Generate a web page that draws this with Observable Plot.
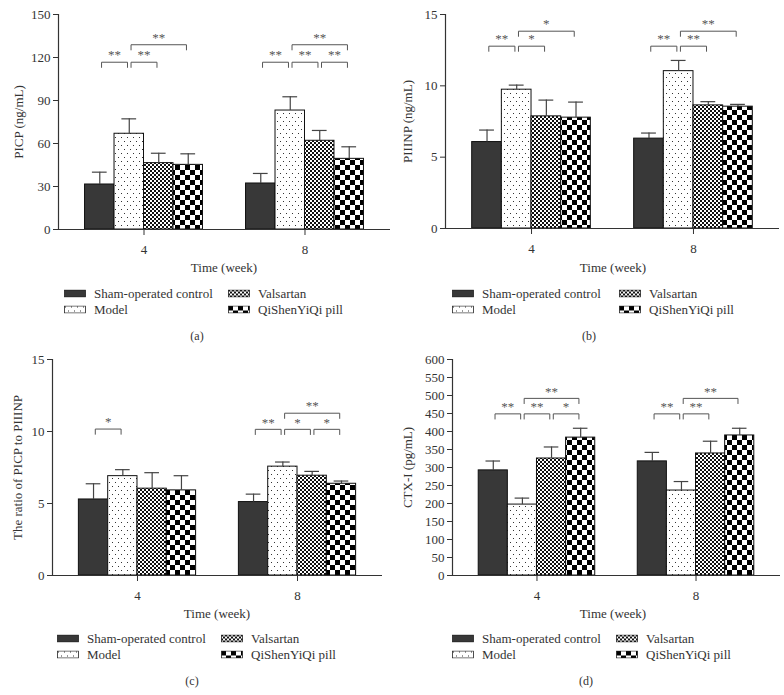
<!DOCTYPE html>
<html><head><meta charset="utf-8">
<script src="https://cdn.jsdelivr.net/npm/d3@7"></script>
<script src="https://cdn.jsdelivr.net/npm/@observablehq/plot@0.6"></script>
<style>
body{margin:0;background:#fff;}
#root{position:relative;width:784px;height:695px;font-family:"Liberation Serif","DejaVu Serif",serif;color:#333;overflow:hidden;}
.panel{position:absolute;}
.t{position:absolute;transform:translate(-50%,-50%);white-space:nowrap;line-height:1;}
.leg{position:absolute;display:flex;align-items:center;white-space:nowrap;font-size:13px;line-height:1;transform:translateY(-50%);}
.leg svg{margin-right:8px;}
</style></head>
<body><div id="root"></div>
<script>
// ---------- data ----------
const weeks = ["4", "8"];
const groups = ["Sham-operated control", "Model", "Valsartan", "QiShenYiQi pill"];

// values listed week 4 (4 groups) then week 8 (4 groups)
const picpMean = [31.4, 66.8, 46.3, 45.1, 32.1, 83.0, 61.9, 49.3];
const picpErr  = [8.6, 10.4, 6.9, 7.7, 7.0, 9.6, 7.2, 8.4];
const piiinpMean = [6.06, 9.73, 7.86, 7.77, 6.30, 11.03, 8.63, 8.54];
const piiinpErr  = [0.84, 0.32, 1.14, 1.09, 0.39, 0.75, 0.26, 0.16];
const ratioMean = [5.28, 6.90, 6.03, 5.91, 5.10, 7.56, 6.93, 6.37];
const ratioErr  = [1.09, 0.45, 1.11, 1.02, 0.55, 0.32, 0.30, 0.19];
const ctxMean = [292, 197, 325, 383, 317, 236, 339, 389];
const ctxErr  = [26, 18, 32, 26, 25, 25, 34, 20];

const picpTicks = [0, 30, 60, 90, 120, 150];
const piiinpTicks = [0, 5, 10, 15];
const ratioTicks = [0, 5, 10, 15];
const ctxTicks = [0, 50, 100, 150, 200, 250, 300, 350, 400, 450, 500, 550, 600];

// significance brackets: [week, from group index, to group index, height, label]
const picpSig = [["4",0,1,116.7,"**"],["4",1,2,116.7,"**"],["4",1,3,128.9,"**"],
                 ["8",0,1,116.7,"**"],["8",1,2,116.7,"**"],["8",2,3,116.7,"**"],["8",1,3,128.9,"**"]];
const piiinpSig = [["4",0,1,12.78,"**"],["4",1,2,12.78,"*"],["4",1,3,13.83,"*"],
                   ["8",0,1,12.78,"**"],["8",1,2,12.78,"**"],["8",1,3,13.83,"**"]];
const ratioSig = [["4",0,1,10.17,"*"],
                  ["8",0,1,10.15,"**"],["8",1,2,10.15,"*"],["8",2,3,10.15,"*"],["8",1,3,11.27,"**"]];
const ctxSig = [["4",0,1,449,"**"],["4",1,2,449,"**"],["4",2,3,449,"*"],["4",1,3,492,"**"],
                ["8",0,1,449,"**"],["8",1,2,449,"**"],["8",1,3,492,"**"]];

const yLabels = ["PICP (ng/mL)", "PIIINP (ng/mL)", "The ratio of PICP to PIIINP", "CTX-I (pg/mL)"];
const xLabel = "Time (week)";
const captions = ["(a)", "(b)", "(c)", "(d)"];

// ---------- layout of grouped bars (in bar-width units) ----------
const groupStep = 5.46;     // distance between week groups
const outerPad = 0.9;       // space between axis ends and outer bars
const barPos = (wi, gi) => wi * groupStep + gi;
const weekCenters = weeks.map((w, wi) => barPos(wi, 1.5));
const xDomain = [barPos(0, 0) - 0.5 - outerPad, barPos(weeks.length - 1, 3) + 0.5 + outerPad];

// ---------- patterns ----------
const root = d3.select("#root");
const defsSvg = root.append("svg").attr("width", 1).attr("height", 1)
  .style("position", "absolute").style("left", "0").style("top", "0");
const defs = defsSvg.append("defs");
{
  let p = defs.append("pattern").attr("id", "patModel").attr("patternUnits", "userSpaceOnUse").attr("width", 6).attr("height", 8);
  p.append("rect").attr("width", 6).attr("height", 8).attr("fill", "#fff");
  p.append("rect").attr("x", 1).attr("y", 1).attr("width", 1).attr("height", 1).attr("fill", "#333");
  p.append("rect").attr("x", 4).attr("y", 5).attr("width", 1).attr("height", 1).attr("fill", "#333");
  p = defs.append("pattern").attr("id", "patVals").attr("patternUnits", "userSpaceOnUse").attr("width", 4).attr("height", 4);
  p.append("rect").attr("width", 4).attr("height", 4).attr("fill", "#fff");
  p.append("rect").attr("width", 2).attr("height", 2).attr("fill", "#111");
  p.append("rect").attr("x", 2).attr("y", 2).attr("width", 2).attr("height", 2).attr("fill", "#111");
  p = defs.append("pattern").attr("id", "patQi").attr("patternUnits", "userSpaceOnUse").attr("width", 10).attr("height", 10);
  p.append("rect").attr("width", 10).attr("height", 10).attr("fill", "#fff");
  p.append("rect").attr("width", 5).attr("height", 5).attr("fill", "#000");
  p.append("rect").attr("x", 5).attr("y", 5).attr("width", 5).attr("height", 5).attr("fill", "#000");
}
const fills = ["#383838", "url(#patModel)", "url(#patVals)", "url(#patQi)"];

// ---------- panels ----------
const panels = [
  {mean: picpMean, err: picpErr, ticks: picpTicks, sig: picpSig, ylabel: yLabels[0], cap: captions[0],
   left: 0, top: 0, width: 392, height: 256, ml: 58, mr: 2, mt: 14, mb: 27, lo: 45,
   xl: [224, 267], capPos: [197, 336], leg: {c1: 64, c2: 228, r1: 293, r2: 309}},
  {mean: piiinpMean, err: piiinpErr, ticks: piiinpTicks, sig: piiinpSig, ylabel: yLabels[1], cap: captions[1],
   left: 392, top: 0, width: 392, height: 256, ml: 53, mr: 5, mt: 14, mb: 28, lo: 43,
   xl: [613, 267], capPos: [589, 336], leg: {c1: 452, c2: 619, r1: 293, r2: 309}},
  {mean: ratioMean, err: ratioErr, ticks: ratioTicks, sig: ratioSig, ylabel: yLabels[2], cap: captions[2],
   left: 0, top: 345, width: 392, height: 257, ml: 52, mr: 10, mt: 14, mb: 27, lo: 40,
   xl: [217, 613], capPos: [192, 681], leg: {c1: 57, c2: 221, r1: 638, r2: 654}},
  {mean: ctxMean, err: ctxErr, ticks: ctxTicks, sig: ctxSig, ylabel: yLabels[3], cap: captions[3],
   left: 392, top: 345, width: 392, height: 257, ml: 60, mr: 4, mt: 14, mb: 27, lo: 50,
   xl: [613, 613], capPos: [586, 681], leg: {c1: 452, c2: 616, r1: 638, r2: 654}}
];

const font = '"Liberation Serif","DejaVu Serif",serif';

panels.forEach(cfg => {
  const rows = [];
  weeks.forEach((w, wi) => groups.forEach((g, gi) => {
    const k = wi * 4 + gi;
    rows.push({week: w, group: g, pos: barPos(wi, gi), mean: cfg.mean[k], upper: cfg.mean[k] + cfg.err[k], fill: fills[gi]});
  }));
  const ymax = cfg.ticks[cfg.ticks.length - 1];
  const leg = ymax * 0.024;
  const brRows = [], starRows = [];
  cfg.sig.forEach((b, bi) => {
    const [w, a, c, h, lab] = b;
    const wi = weeks.indexOf(w);
    const x1 = barPos(wi, a) + 0.06, x2 = barPos(wi, c) - 0.06;
    brRows.push({id: bi, x: x1, y: h - leg}, {id: bi, x: x1, y: h},
                {id: bi, x: x2, y: h}, {id: bi, x: x2, y: h - leg});
    starRows.push({x: (x1 + x2) / 2, y: h, label: lab});
  });

  const plot = Plot.plot({
    width: cfg.width, height: cfg.height,
    marginLeft: cfg.ml, marginRight: cfg.mr, marginTop: cfg.mt, marginBottom: cfg.mb,
    style: {fontFamily: font, fontSize: "13px", color: "#333", background: "transparent", overflow: "visible"},
    x: {domain: xDomain},
    y: {domain: [0, ymax]},
    color: {type: "identity"},
    marks: [
      Plot.axisY({ticks: cfg.ticks, tickSize: 5, tickPadding: 3, label: cfg.ylabel, labelAnchor: "center",
                  labelArrow: "none", labelOffset: cfg.lo, fontSize: 13}),
      Plot.axisX({ticks: weekCenters, tickFormat: d => weeks[weekCenters.indexOf(d)], tickSize: 6, tickPadding: 9,
                  label: null, fontSize: 13}),
      Plot.rectY(rows, {x1: d => d.pos - 0.5, x2: d => d.pos + 0.5, y1: d => 0, y2: "mean",
        fill: "fill", stroke: "#111", strokeWidth: 1}),
      Plot.ruleX(rows, {x: "pos", y1: "mean", y2: "upper", stroke: "#444", strokeWidth: 1.2}),
      Plot.ruleY(rows, {y: "upper", x1: d => d.pos - 0.25, x2: d => d.pos + 0.25, stroke: "#444", strokeWidth: 1.2}),
      Plot.line(brRows, {x: "x", y: "y", z: "id", stroke: "#555", strokeWidth: 1}),
      Plot.text(starRows, {x: "x", y: "y", text: "label", dy: -7, fill: "#555", fontSize: 13}),
      Plot.ruleY([0], {stroke: "#333", strokeWidth: 1.2}),
      Plot.ruleX([xDomain[0]], {y1: 0, y2: ymax, stroke: "#333", strokeWidth: 1.2})
    ]
  });

  const div = root.append("div").attr("class", "panel").style("left", cfg.left + "px").style("top", cfg.top + "px");
  div.node().appendChild(plot);

  root.append("div").attr("class", "t").style("left", cfg.xl[0] + "px").style("top", cfg.xl[1] + "px")
    .style("font-size", "13px").text(xLabel);
  root.append("div").attr("class", "t").style("left", cfg.capPos[0] + "px").style("top", cfg.capPos[1] + "px")
    .style("font-size", "12px").text(cfg.cap);

  const pos = [[cfg.leg.c1, cfg.leg.r1], [cfg.leg.c1, cfg.leg.r2], [cfg.leg.c2, cfg.leg.r1], [cfg.leg.c2, cfg.leg.r2]];
  groups.forEach((g, gi) => {
    const item = root.append("div").attr("class", "leg").style("left", pos[gi][0] + "px").style("top", pos[gi][1] + "px");
    const sw = item.append("svg").attr("width", 22).attr("height", 8);
    sw.append("rect").attr("x", 0.5).attr("y", 0.5).attr("width", 21).attr("height", 7)
      .attr("fill", fills[gi]).attr("stroke", "#222").attr("stroke-width", 0.8);
    item.append("span").text(g);
  });
});
</script>
</body></html>
